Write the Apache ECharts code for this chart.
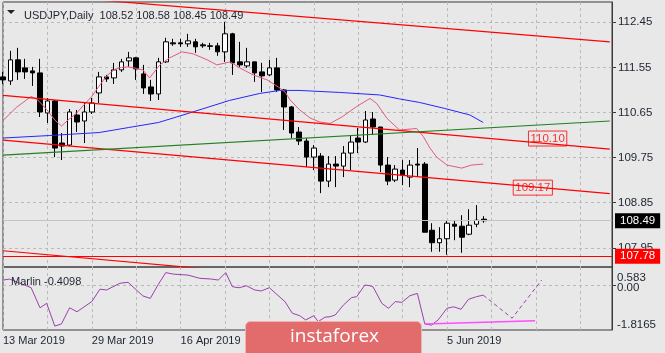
<!DOCTYPE html>
<html>
<head>
<meta charset="utf-8">
<title>USDJPY Daily</title>
<script src="https://cdn.jsdelivr.net/npm/echarts@6.0.0/dist/echarts.min.js"></script>
<style>
  html, body { margin: 0; padding: 0; background: #e8e8e8; }
  #chart { width: 665px; height: 353px; }
</style>
</head>
<body>
<div id="chart"></div>
<script>
var symbol = 'USDJPY'
var period = 'Daily'

// bar 0 = 13 Mar 2019 ... bar 65 = 12 Jun 2019
var dateBars = [0, 12, 24, 36, 48, 60]
var dateLabels = ['13 Mar 2019', '29 Mar 2019', '16 Apr 2019', '2 May 2019', '20 May 2019', '5 Jun 2019']

var opens = [111.36, 111.28, 111.70, 111.54, 111.48, 111.44, 110.64, 110.88, 110.04, 110.00,
  110.60, 110.48, 110.66, 111.04, 111.36, 111.34, 111.50, 111.68, 111.74, 111.42,
  111.16, 111.02, 111.66, 112.04, 112.04, 112.02, 112.06, 112.00, 111.98, 111.98,
  111.86, 112.22, 111.66, 111.58, 111.66, 111.46, 111.40, 111.54, 111.10, 110.76,
  110.26, 110.08, 109.76, 109.78, 109.28, 109.62, 109.58, 109.84, 110.14, 110.06,
  110.52, 110.36, 109.60, 109.30, 109.50, 109.36, 109.62, 109.62, 108.30, 108.05,
  108.13, 108.42, 108.38, 108.22, 108.42, 108.52]
var closes = [111.30, 111.70, 111.46, 111.46, 111.44, 110.66, 110.88, 109.94, 109.98, 110.66,
  110.46, 110.66, 110.84, 111.36, 111.32, 111.50, 111.66, 111.74, 111.52, 111.14,
  111.02, 111.66, 112.06, 112.02, 112.02, 112.08, 111.96, 111.98, 111.97, 111.86,
  112.22, 111.64, 111.60, 111.66, 111.44, 111.38, 111.54, 111.10, 110.76, 110.24,
  110.08, 109.76, 109.94, 109.28, 109.62, 109.58, 109.84, 110.06, 110.06, 110.50,
  110.36, 109.60, 109.28, 109.52, 109.40, 109.60, 109.60, 108.26, 108.05, 108.13,
  108.44, 108.38, 108.16, 108.40, 108.50, 108.49]
var lows = [111.22, 111.20, 111.30, 111.32, 111.18, 110.56, 110.44, 109.76, 109.70, 109.98,
  110.26, 110.04, 110.62, 110.84, 111.26, 111.22, 111.46, 111.56, 111.30, 111.02,
  110.88, 110.90, 111.64, 111.98, 111.96, 111.96, 111.84, 111.94, 111.90, 111.78,
  111.66, 111.40, 111.56, 111.54, 111.26, 111.06, 111.38, 111.06, 110.30, 110.14,
  110.00, 109.56, 109.50, 109.04, 109.16, 109.16, 109.36, 109.50, 109.84, 110.04,
  110.20, 109.46, 109.20, 109.26, 109.20, 109.16, 109.36, 108.26, 107.87, 107.87,
  107.81, 108.10, 107.85, 108.20, 108.36, 108.45]
var highs = [111.46, 111.88, 111.94, 111.72, 111.56, 111.72, 110.94, 110.90, 110.24, 110.72,
  110.70, 110.84, 110.94, 111.46, 111.40, 111.64, 111.72, 111.86, 111.76, 111.60,
  111.30, 111.74, 112.14, 112.12, 112.12, 112.22, 112.12, 112.04, 112.04, 112.04,
  112.46, 112.24, 112.06, 111.94, 111.66, 111.64, 111.70, 111.74, 111.12, 110.78,
  110.36, 110.14, 110.00, 109.84, 109.78, 109.78, 109.98, 110.20, 110.34, 110.68,
  110.66, 110.36, 109.76, 109.60, 109.70, 109.70, 109.94, 109.66, 108.44, 108.36,
  108.50, 108.50, 108.60, 108.72, 108.80, 108.58]

// slow moving average (blue)
var blueBars = [0, 6.3, 13, 17, 21, 25, 30.6, 34.7, 37.4, 40, 45.5, 50.9, 53.6, 56.3, 59.7, 63.1, 64.9]
var blueVals = [110.14, 110.19, 110.25, 110.35, 110.45, 110.63, 110.89, 111.03, 111.09, 111.09,
  111.05, 111.00, 110.92, 110.85, 110.73, 110.60, 110.45]

// fast moving average (pink)
var pinkBars = [0, 1.8, 3.8, 4.7, 5.9, 7, 7.9, 8.8, 9.9, 10.8, 12, 13.1, 14, 15.1, 16, 16.9, 18, 18.9, 19.8, 21.2,
  22.5, 24.2, 25.7, 27.6, 28.9, 30.7, 32, 33.8, 35.7, 37.2, 38.1, 38.8, 40.1, 41.5, 42.8, 44.2, 45.9, 47.8, 49.6, 50.5,
  51.9, 53.6, 55.9, 56.8, 57.7, 58.6, 60, 62, 63.3, 64.9]
var pinkVals = [110.49, 110.75, 110.97, 110.90, 110.71, 110.50, 110.38, 110.50, 110.63, 110.78,
  110.97, 111.20, 111.38, 111.51, 111.55, 111.56, 111.53, 111.50, 111.34, 111.60,
  111.74, 111.86, 111.82, 111.70, 111.60, 111.66, 111.54, 111.40, 111.30, 111.16,
  111.06, 110.90, 110.70, 110.54, 110.46, 110.43, 110.57, 110.77, 110.93, 110.83,
  110.53, 110.30, 110.33, 110.17, 109.94, 109.76, 109.60, 109.54, 109.60, 109.62]

// drawn trend lines, from bar 0 to bar 82
var trendBars = [0, 82]
var topChannel = [113.05, 112.06]
var upperChannel = [110.99, 109.92]
var lowerChannel = [110.10, 109.03]
var bottomChannel = [107.89, 106.81]
var greenTrend = [109.80, 110.48]
var trendLabelBars = [73.6, 71.6]
var trendLabelPrices = [110.13, 109.15]
var trendLabelTexts = ['110.10', '109.17']
var supportLevel = 107.78

var priceTicks = [107.95, 108.85, 109.75, 110.65, 111.55, 112.45]

// Marlin oscillator
var marlinBars = [0, 0.9, 2.3, 3.8, 5, 5.9, 7, 7.9, 9, 10, 12, 13.1, 14, 15.8, 16.9, 18.9, 19.9, 21, 22, 23,
  25, 26.6, 28.2, 29.1, 30.1, 31, 31.9, 32.9, 34, 34.9, 36, 37, 38.1, 39.1, 40.1, 40.9, 42, 42.6, 43.5, 44.2,
  44.9, 46, 47.1, 47.8, 48.9, 49.6, 50, 51.2, 52.1, 53, 53.9, 55, 56, 57, 57.9, 58.8, 60, 60.9, 61.9, 62.9, 64, 64.9]
var marlinVals = [0.20, 0.24, 0.07, -0.11, -0.92, -0.74, -1.66, -1.57, -0.92, -1.08,
  -0.67, -0.17, -0.20, 0.07, 0.11, -0.44, -0.54, 0.03, 0.50, 0.44,
  0.40, 0.27, 0.24, 0.20, 0.50, -0.07, -0.11, -0.03, -0.20, -0.24,
  -0.11, -0.38, -0.67, -1.14, -1.24, -1.41, -1.24, -1.48, -1.30, -1.28,
  -1.21, -0.81, -0.51, -0.47, 0.00, -0.03, -0.07, -0.74, -0.94, -0.67,
  -0.70, -0.43, -0.34, -1.57, -1.62, -1.41, -0.94, -0.88, -0.98, -0.58,
  -0.47, -0.4098]
var forecastBars = [64.9, 68.8, 72.8]
var forecastVals = [-0.4098, -1.34, 0.20]
var marlinTrendBars = [57, 71.9]
var marlinTrendVals = [-1.57, -1.44]
var marlinRange = [-1.8165, 0.583]
var marlinRangeText = ['-1.8165', '0.583']
var marlinLevel = 0

var chart = echarts.init(document.getElementById('chart'))

var last = opens.length - 1
var xMax = 82.3
var font = 'Liberation Sans'
var gridColor = '#bababa'
var frameColor = '#3a3a3a'
var textColor = '#1d2430'
var marlinMax = 0.727

var candles = opens.map(function (o, i) {
  return [i, o, closes[i], lows[i], highs[i]]
})

function pairs(xs, ys) {
  return xs.map(function (x, i) { return [x, ys[i]] })
}

function line(xs, ys, color, pane, extra) {
  var s = {
    type: 'line',
    xAxisIndex: pane,
    yAxisIndex: pane,
    data: pairs(xs, ys),
    showSymbol: false,
    symbol: 'none',
    silent: true,
    lineStyle: { color: color, width: 1 }
  }
  return Object.assign(s, extra || {})
}

function xAxisFor(pane, showLabels) {
  return {
    type: 'value',
    gridIndex: pane,
    min: 0,
    max: xMax,
    interval: 6,
    axisLine: { show: false, onZero: false },
    axisTick: { show: false },
    axisLabel: {
      show: showLabels,
      showMinLabel: true,
      align: 'left',
      margin: 5,
      color: textColor,
      fontFamily: font,
      fontSize: 11,
      formatter: function (v) {
        var k = dateBars.indexOf(v)
        return k >= 0 ? dateLabels[k] : ''
      }
    },
    splitLine: { show: true, lineStyle: { color: gridColor, type: [3, 3] } }
  }
}

var header = symbol + ',' + period + '  ' +
  [opens[last], highs[last], lows[last], closes[last]].map(function (v) { return v.toFixed(2) }).join(' ')

chart.setOption({
  backgroundColor: '#e8e8e8',
  animation: false,
  textStyle: { fontFamily: font },
  title: [
    { text: header, left: 19, top: 5, textStyle: { fontSize: 11, fontWeight: 'normal', color: textColor, fontFamily: font } },
    { text: 'Marlin ' + marlinVals[marlinVals.length - 1].toFixed(4), left: 6, top: 271,
      textStyle: { fontSize: 11, fontWeight: 'normal', color: textColor, fontFamily: font } }
  ],
  grid: [
    { left: 3, top: 2, width: 609, height: 265, show: true, borderColor: frameColor, borderWidth: 1, outerBoundsMode: 'none' },
    { left: 3, top: 267, width: 609, height: 63, show: true, borderColor: frameColor, borderWidth: 1, outerBoundsMode: 'none' }
  ],
  xAxis: [xAxisFor(0, false), xAxisFor(1, true)],
  yAxis: [
    {
      type: 'value', gridIndex: 0, position: 'right', min: 107.566, max: 112.855,
      axisLine: { show: true, onZero: false, lineStyle: { color: frameColor } },
      axisTick: { show: true, customValues: priceTicks, length: 4, lineStyle: { color: frameColor } },
      axisLabel: {
        customValues: priceTicks, margin: 6, color: textColor, fontFamily: font, fontSize: 11.5,
        formatter: function (v) { return v.toFixed(2) }
      },
      splitLine: { show: true, lineStyle: { color: gridColor, type: [3, 3] } }
    },
    {
      // Marlin pane: max / min captions and the zero level line
      type: 'value', gridIndex: 1, position: 'right', min: marlinRange[0], max: marlinMax,
      axisLine: { show: true, onZero: false, lineStyle: { color: frameColor } },
      axisTick: { show: true, customValues: [marlinLevel], length: 4, lineStyle: { color: frameColor } },
      axisLabel: {
        customValues: marlinRange, margin: 5, color: textColor, fontFamily: font, fontSize: 11.5,
        showMinLabel: true, showMaxLabel: true,
        formatter: function (v) {
          var k = marlinRange.indexOf(v)
          return '{' + ['b', 't'][k] + '|' + marlinRangeText[k] + '}'
        },
        rich: {
          t: { padding: [14, 0, 0, 0], fontSize: 11.5, color: textColor, fontFamily: font },
          b: { padding: [0, 0, 11, 0], fontSize: 11.5, color: textColor, fontFamily: font }
        }
      },
      splitLine: { show: true, lineStyle: { color: gridColor, type: [3, 3] } }
    },
    {
      // Marlin pane: caption of the zero level
      type: 'value', gridIndex: 1, position: 'right', min: marlinRange[0], max: marlinMax,
      axisLine: { show: false, onZero: false },
      axisTick: { show: false },
      splitLine: { show: false },
      axisLabel: {
        customValues: [marlinLevel], margin: 5, color: textColor, fontFamily: font, fontSize: 11.5,
        showMinLabel: true, showMaxLabel: true,
        formatter: function (v) { return '{m|' + v.toFixed(2) + '}' },
        rich: { m: { padding: [5, 0, 0, 0], fontSize: 11.5, color: textColor, fontFamily: font } }
      }
    }
  ],
  series: [
    {
      type: 'candlestick',
      xAxisIndex: 0,
      yAxisIndex: 0,
      data: candles,
      encode: { x: 0, y: [1, 2, 3, 4] },
      barWidth: 5,
      itemStyle: { color: '#ffffff', color0: '#000000', borderColor: '#000000', borderColor0: '#000000', borderWidth: 1 },
      markLine: {
        silent: true,
        symbol: ['none', 'none'],
        animation: false,
        data: [
          {
            yAxis: closes[last],
            lineStyle: { color: '#c4c4c4', width: 1, type: 'solid' },
            label: { show: true, position: 'end', distance: 3, formatter: closes[last].toFixed(2),
              color: '#fff', backgroundColor: '#000', padding: [2, 5, 1, 5], fontSize: 11.5, fontFamily: font }
          },
          {
            yAxis: supportLevel,
            lineStyle: { color: '#ff0000', width: 1, type: 'solid' },
            label: { show: true, position: 'end', distance: 3, formatter: supportLevel.toFixed(2),
              color: '#fff', backgroundColor: '#ff0000', padding: [2, 5, 1, 5], fontSize: 11.5, fontFamily: font }
          }
        ]
      }
    },
    line(blueBars, blueVals, '#2626ff', 0),
    line(pinkBars, pinkVals, '#e45a7c', 0),
    line(trendBars, topChannel, '#ff0000', 0, { lineStyle: { color: '#ff0000', width: 1.2 } }),
    line(trendBars, upperChannel, '#ff0000', 0, { lineStyle: { color: '#ff0000', width: 1.2 } }),
    line(trendBars, lowerChannel, '#ff0000', 0, { lineStyle: { color: '#ff0000', width: 1.2 } }),
    line(trendBars, bottomChannel, '#ff0000', 0, { lineStyle: { color: '#ff0000', width: 1.2 } }),
    line(trendBars, greenTrend, '#238023', 0, { lineStyle: { color: '#238023', width: 1.2 } }),
    {
      type: 'scatter',
      xAxisIndex: 0,
      yAxisIndex: 0,
      data: pairs(trendLabelBars, trendLabelPrices),
      symbolSize: 1,
      silent: true,
      itemStyle: { color: 'rgba(0,0,0,0)' },
      label: {
        show: true, position: 'inside',
        formatter: function (p) { return trendLabelTexts[p.dataIndex] },
        color: '#ff0000', fontSize: 11.5, fontFamily: font,
        borderColor: '#ff0000', borderWidth: 1, padding: [2, 2, 1, 2]
      }
    },
    line(marlinBars, marlinVals, '#9d3fae', 1),
    line(forecastBars, forecastVals, '#9d3fae', 1, { lineStyle: { color: '#9d3fae', width: 1, type: [4, 3] } }),
    line(marlinTrendBars, marlinTrendVals, '#ff4dff', 1, { lineStyle: { color: '#ff4dff', width: 1.5 } })
  ],
  graphic: [
    { type: 'polygon', z: 100, shape: { points: [[7, 10], [15, 10], [11, 14]] }, style: { fill: textColor } },
    { type: 'rect', z: 100, shape: { x: 245.5, y: 321.5, width: 176, height: 40, r: 5 },
      style: { fill: '#e26b6b', stroke: '#efb3b3', lineWidth: 1 } },
    { type: 'text', z: 101, x: 290, y: 337, style: { text: 'instaforex', fill: '#ffffff',
      font: '19px "Open Sans"', verticalAlign: 'middle' } }
  ]
})
</script>
</body>
</html>
